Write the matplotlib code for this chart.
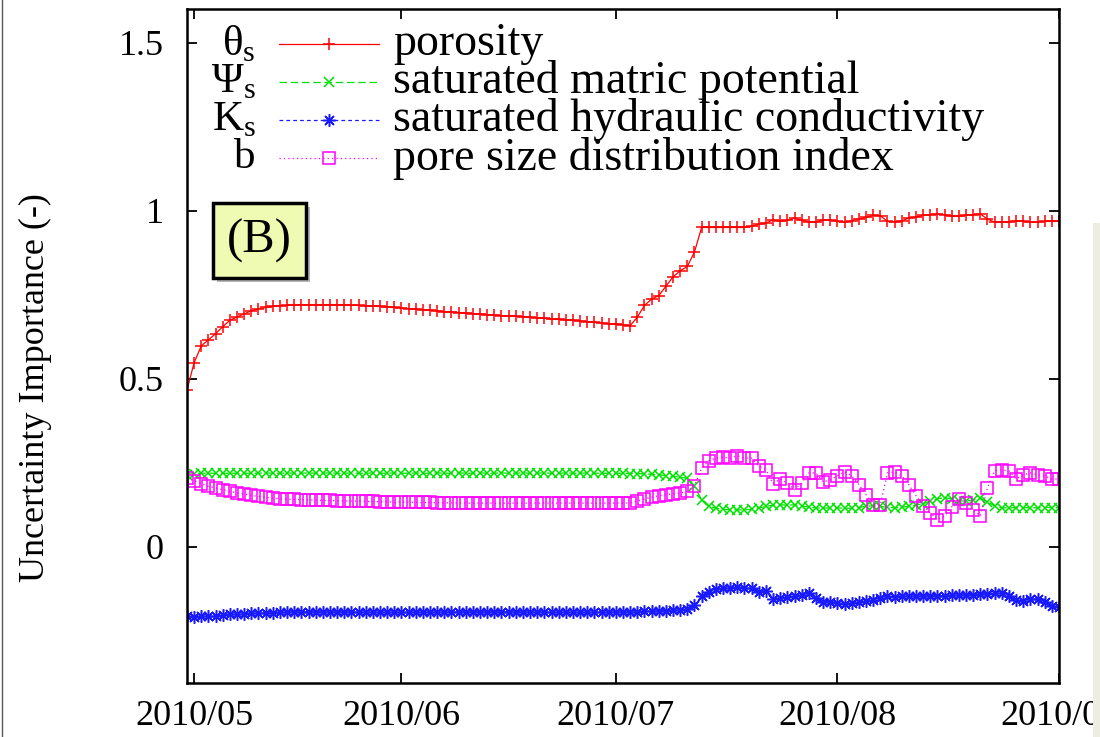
import numpy as np
import matplotlib
matplotlib.use("Agg")
import matplotlib.pyplot as plt
import matplotlib.dates as mdates
import matplotlib.patheffects as pe
from matplotlib.patches import Rectangle

plt.rcParams['font.family'] = ['Liberation Serif', 'DejaVu Serif']
plt.rcParams['mathtext.fontset'] = 'custom'
plt.rcParams['mathtext.rm'] = 'Liberation Serif'

# daily values, 2010/05/02 .. 2010/09/01
dates = np.arange(np.datetime64('2010-05-02'), np.datetime64('2010-09-02'), np.timedelta64(1, 'D'))

porosity = [0.467, 0.548, 0.598, 0.616, 0.634, 0.655, 0.674, 0.684, 0.693, 0.702,
            0.708, 0.712, 0.715, 0.717, 0.718, 0.719, 0.720, 0.720, 0.720, 0.720,
            0.720, 0.720, 0.719, 0.719, 0.718, 0.717, 0.716, 0.715, 0.713, 0.712,
            0.710, 0.709, 0.707, 0.705, 0.704, 0.702, 0.700, 0.699, 0.697, 0.696,
            0.694, 0.693, 0.691, 0.690, 0.688, 0.687, 0.686, 0.684, 0.683, 0.681,
            0.680, 0.678, 0.677, 0.675, 0.674, 0.672, 0.670, 0.668, 0.666, 0.664,
            0.663, 0.661, 0.658, 0.683, 0.718, 0.737, 0.747, 0.775, 0.803, 0.821,
            0.834, 0.877, 0.950, 0.950, 0.950, 0.950, 0.950, 0.950, 0.950, 0.953,
            0.960, 0.963, 0.973, 0.968, 0.971, 0.978, 0.971, 0.966, 0.966, 0.973,
            0.971, 0.968, 0.965, 0.970, 0.975, 0.980, 0.986, 0.985, 0.968, 0.966,
            0.970, 0.978, 0.981, 0.986, 0.988, 0.991, 0.988, 0.983, 0.983, 0.986,
            0.988, 0.990, 0.975, 0.966, 0.965, 0.966, 0.970, 0.968, 0.966, 0.966,
            0.968, 0.968, 0.970]

matric = [0.215, 0.218, 0.219, 0.219, 0.219, 0.219, 0.219, 0.219, 0.219, 0.219,
          0.219, 0.220, 0.219, 0.219, 0.220, 0.219, 0.219, 0.220, 0.219, 0.219,
          0.220, 0.219, 0.219, 0.220, 0.219, 0.219, 0.220, 0.219, 0.219, 0.220,
          0.219, 0.219, 0.220, 0.219, 0.219, 0.220, 0.219, 0.219, 0.220, 0.219,
          0.219, 0.220, 0.219, 0.219, 0.220, 0.219, 0.219, 0.220, 0.219, 0.219,
          0.220, 0.219, 0.219, 0.220, 0.219, 0.219, 0.220, 0.219, 0.219, 0.219,
          0.219, 0.219, 0.218, 0.218, 0.217, 0.216, 0.214, 0.212, 0.210, 0.207,
          0.204, 0.180, 0.140, 0.120, 0.115, 0.112, 0.110, 0.110, 0.110, 0.112,
          0.116, 0.120, 0.124, 0.125, 0.124, 0.125, 0.122, 0.118, 0.116, 0.115,
          0.116, 0.116, 0.115, 0.115, 0.117, 0.121, 0.122, 0.120, 0.118, 0.116,
          0.118, 0.121, 0.124, 0.128, 0.136, 0.143, 0.146, 0.143, 0.137, 0.136,
          0.140, 0.144, 0.133, 0.122, 0.116, 0.116, 0.117, 0.117, 0.116, 0.116,
          0.117, 0.117, 0.116]

conductivity = [-0.207, -0.208, -0.207, -0.206, -0.205, -0.203, -0.201, -0.200, -0.199, -0.198,
                -0.197, -0.196, -0.196, -0.195, -0.195, -0.194, -0.194, -0.194, -0.194, -0.194,
                -0.194, -0.194, -0.194, -0.194, -0.194, -0.194, -0.194, -0.194, -0.194, -0.194,
                -0.194, -0.194, -0.194, -0.194, -0.194, -0.194, -0.194, -0.194, -0.194, -0.194,
                -0.194, -0.194, -0.194, -0.194, -0.194, -0.194, -0.194, -0.194, -0.194, -0.194,
                -0.194, -0.194, -0.194, -0.194, -0.194, -0.194, -0.194, -0.194, -0.194, -0.194,
                -0.194, -0.193, -0.193, -0.193, -0.192, -0.192, -0.191, -0.190, -0.188, -0.189,
                -0.185, -0.173, -0.146, -0.133, -0.126, -0.123, -0.121, -0.118, -0.123, -0.122,
                -0.133, -0.130, -0.155, -0.152, -0.148, -0.146, -0.143, -0.137, -0.152, -0.163,
                -0.163, -0.166, -0.170, -0.168, -0.163, -0.161, -0.158, -0.152, -0.146, -0.148,
                -0.146, -0.146, -0.146, -0.146, -0.145, -0.145, -0.145, -0.144, -0.144, -0.143,
                -0.142, -0.140, -0.139, -0.137, -0.138, -0.146, -0.158, -0.160, -0.155, -0.155,
                -0.163, -0.176, -0.179]

pore_index = [0.204, 0.197, 0.188, 0.180, 0.175, 0.170, 0.165, 0.160, 0.157, 0.153,
              0.150, 0.147, 0.145, 0.143, 0.142, 0.141, 0.140, 0.140, 0.139, 0.138,
              0.138, 0.137, 0.137, 0.136, 0.136, 0.135, 0.135, 0.134, 0.134, 0.133,
              0.133, 0.133, 0.132, 0.132, 0.132, 0.131, 0.131, 0.131, 0.131, 0.130,
              0.130, 0.130, 0.130, 0.130, 0.130, 0.130, 0.130, 0.130, 0.130, 0.130,
              0.130, 0.130, 0.130, 0.130, 0.130, 0.130, 0.130, 0.130, 0.130, 0.130,
              0.130, 0.130, 0.131, 0.137, 0.142, 0.148, 0.152, 0.155, 0.158, 0.160,
              0.165, 0.182, 0.234, 0.256, 0.264, 0.267, 0.264, 0.271, 0.264, 0.264,
              0.241, 0.229, 0.188, 0.202, 0.190, 0.170, 0.190, 0.220, 0.220, 0.193,
              0.199, 0.211, 0.223, 0.211, 0.185, 0.155, 0.125, 0.125, 0.220, 0.223,
              0.211, 0.185, 0.152, 0.122, 0.101, 0.080, 0.092, 0.119, 0.143, 0.131,
              0.110, 0.092, 0.176, 0.226, 0.229, 0.226, 0.202, 0.214, 0.220, 0.214,
              0.211, 0.202, 0.202]

symbols = ['θ$_{\\rm s}$', 'Ψ$_{\\rm s}$', 'K$_{\\rm s}$', 'b']
names = ['porosity', 'saturated matric potential',
         'saturated hydraulic conductivity', 'pore size distribution index']
tick_dates = ['2010-05-03', '2010-06-01', '2010-07-01', '2010-08-01', '2010-09-01']

RED, GREEN, BLUE, MAGENTA = '#ff0000', '#00e000', '#1a1aff', '#ff00ff'
styles = [dict(color=RED, ls='-', marker='+', ms=9, mew=1.1),
          dict(color=GREEN, ls=(0, (6, 3)), marker='x', ms=7, mew=1.1),
          dict(color=BLUE, ls=(0, (3, 2.5)), marker=(8, 2, 0), ms=9, mew=1.1),
          dict(color=MAGENTA, ls=(0, (1, 2.5)), marker='s', ms=8.5, mew=1.1, mfc='none')]

fig = plt.figure(figsize=(11, 7.37), dpi=100, facecolor='white')
ax = fig.add_axes([0.170, 0.0733, 0.7927, 0.9145])

for ys, st in zip([porosity, matric, conductivity, pore_index], styles):
    ax.plot(dates, ys, lw=0.9, **st)

ax.set_xlim(dates[0], dates[-1])
ax.set_ylim(-0.405, 1.60)
ax.set_yticks([0, 0.5, 1, 1.5])
ax.set_yticklabels(['0', '0.5', '1', '1.5'])
ax.set_xticks([np.datetime64(d) for d in tick_dates])
ax.xaxis.set_major_formatter(mdates.DateFormatter('%Y/%m'))
ax.tick_params(direction='in', length=7, width=1.3, labelsize=26,
               top=True, right=True)
ax.tick_params(axis='y', pad=17)
ax.tick_params(axis='x', pad=12)
for sp in ax.spines.values():
    sp.set_linewidth(1.8)

ax.set_ylabel('Uncertainty Importance (-)', fontsize=26)
ax.yaxis.set_label_coords(-0.155, 0.438)

# key drawn by hand (gnuplot style)
rows = [0.948, 0.8917, 0.8353, 0.7789]
for yy, sym, name, st in zip(rows, symbols, names, styles):
    ax.text(0.079, yy, sym, transform=ax.transAxes, ha='right', va='center', fontsize=31)
    ax.plot([0.1055, 0.2202], [yy, yy], transform=ax.transAxes, clip_on=False,
            color=st['color'], ls=st['ls'], lw=0.9)
    ax.plot([0.1628], [yy], transform=ax.transAxes, clip_on=False, ls='none',
            color=st['color'], marker=st['marker'], ms=st['ms'], mew=st['mew'],
            mfc=st.get('mfc', st['color']))
    ax.text(0.2362, yy, name, transform=ax.transAxes, ha='left', va='center', fontsize=33)

# (B) panel tag
box = Rectangle((0.0298, 0.601), 0.1067, 0.111, transform=ax.transAxes,
                facecolor='#effab2', edgecolor='black', lw=2.5, zorder=5)
box.set_path_effects([pe.SimplePatchShadow(offset=(3, -3), shadow_rgbFace='#888888', alpha=0.6),
                      pe.Normal()])
ax.add_patch(box)
ax.text(0.0832, 0.656, '(B)', transform=ax.transAxes, ha='center', va='center',
        fontsize=35, zorder=6)

# page border remnants
fig.add_artist(plt.Line2D([0.002, 0.002], [0, 1], color='#555555', lw=1))
fig.add_artist(Rectangle((1093 / 1100, 0), 7 / 1100, 1 - 223 / 737,
                         transform=fig.transFigure, facecolor='#eeede4', edgecolor='none'))

fig.savefig('out.png', dpi=100)
